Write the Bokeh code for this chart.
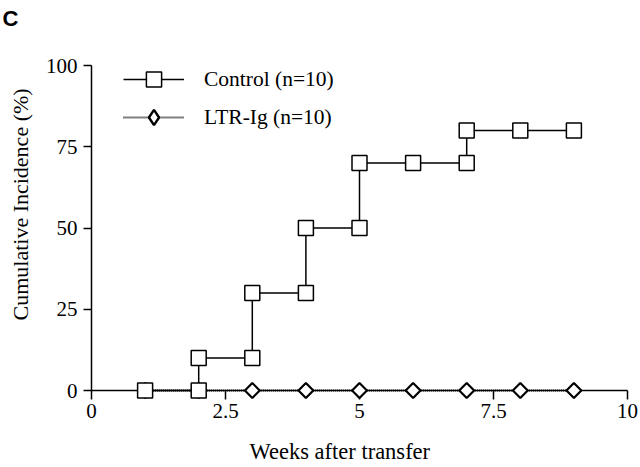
import math
from bokeh.plotting import figure
from bokeh.models import Range1d, FixedTicker, Legend, LegendItem, Label, NumeralTickFormatter
from bokeh.embed import file_html
from bokeh.resources import INLINE

# ---- data ----
control_weeks = [1, 2, 2, 3, 3, 4, 4, 5, 5, 6, 7, 7, 8, 9]
control_incidence = [0, 0, 10, 10, 30, 30, 50, 50, 70, 70, 70, 80, 80, 80]
ltr_weeks = [1, 2, 3, 4, 5, 6, 7, 8, 9]
ltr_incidence = [0, 0, 0, 0, 0, 0, 0, 0, 0]
x_ticks = [0, 2.5, 5, 7.5, 10]
y_ticks = [0, 25, 50, 75, 100]
control_label = "Control (n=10)"
ltr_label = "LTR-Ig (n=10)"
x_title = "Weeks after transfer"
y_title = "Cumulative Incidence (%)"
panel_letter = "C"

SERIF = "Liberation Serif"

# frame covers the whole canvas; axes are pinned at x=0 / y=0 inside it
p = figure(width=640, height=467,
           x_range=Range1d(-1.6978, 10.2425), y_range=Range1d(-23.692, 120),
           output_backend="svg", toolbar_location=None,
           min_border_left=0, min_border_right=0, min_border_top=0, min_border_bottom=0)
p.grid.visible = False
p.outline_line_color = None
p.background_fill_color = "white"
p.border_fill_color = "white"

xa = p.xaxis[0]
xa.fixed_location = 0
xa.bounds = (0, 10)
xa.level = "underlay"
xa.ticker = FixedTicker(ticks=x_ticks)
xa.formatter = NumeralTickFormatter(format="0.[0]")
xa.major_tick_out = 9
xa.major_tick_in = 0
xa.minor_tick_line_color = None
xa.axis_line_width = 1.5
xa.major_tick_line_width = 1.5
xa.axis_line_color = "black"
xa.major_tick_line_color = "black"
xa.major_label_text_font = SERIF
xa.major_label_text_font_size = "21px"
xa.major_label_text_color = "black"
xa.major_label_standoff = 4

ya = p.yaxis[0]
ya.fixed_location = 0
ya.bounds = (0, 100)
ya.level = "underlay"
ya.ticker = FixedTicker(ticks=y_ticks)
ya.major_tick_out = 8
ya.major_tick_in = 0
ya.minor_tick_line_color = None
ya.axis_line_width = 1.5
ya.major_tick_line_width = 1.5
ya.axis_line_color = "black"
ya.major_tick_line_color = "black"
ya.major_label_text_font = SERIF
ya.major_label_text_font_size = "21px"
ya.major_label_text_color = "black"
ya.major_label_standoff = 6

# ---- series ----
ltr_line = p.line(ltr_weeks, ltr_incidence, line_color="black", line_width=1.8, line_dash="1 1")
ctl_line = p.line(control_weeks, control_incidence, line_color="black", line_width=1.5)
# legend key for the diamond series: zero-size in the plot, legend draws its own size
ltr_key = p.scatter(ltr_weeks, ltr_incidence, marker="diamond", size=0,
                    fill_color="white", line_color="black", line_width=2.4)
ltr_pts = p.scatter(ltr_weeks, ltr_incidence, marker="square", angle=math.pi / 4, size=10.5,
                    fill_color="white", line_color="black", line_width=2.2)
ctl_pts = p.scatter(control_weeks, control_incidence, marker="square", size=15,
                    fill_color="white", line_color="black", line_width=1.5)

legend = Legend(items=[LegendItem(label=control_label, renderers=[ctl_line, ctl_pts]),
                       LegendItem(label=ltr_label, renderers=[ltr_line, ltr_key])],
                location=(123, 331), glyph_width=61, glyph_height=38, spacing=0,
                padding=0, margin=0, label_standoff=20,
                label_text_font=SERIF, label_text_font_size="21.5px",
                label_text_color="black",
                border_line_color=None, background_fill_alpha=0)
p.add_layout(legend)

# ---- titles ----
p.add_layout(Label(x=-1.66, y=114.5, text=panel_letter, text_font="Liberation Sans",
                   text_font_style="bold", text_font_size="22px", text_align="left",
                   text_baseline="alphabetic", text_color="black"))
p.add_layout(Label(x=-1.3246, y=21.54, text=y_title, angle=math.pi / 2, text_font=SERIF,
                   text_font_size="22px", text_align="left", text_baseline="alphabetic",
                   text_color="black"))
p.add_layout(Label(x=2.948, y=-18.8, text=x_title, text_font=SERIF,
                   text_font_size="22.5px", text_align="left", text_baseline="alphabetic",
                   text_color="black"))

open("out.html", "w").write(file_html(p, INLINE))
